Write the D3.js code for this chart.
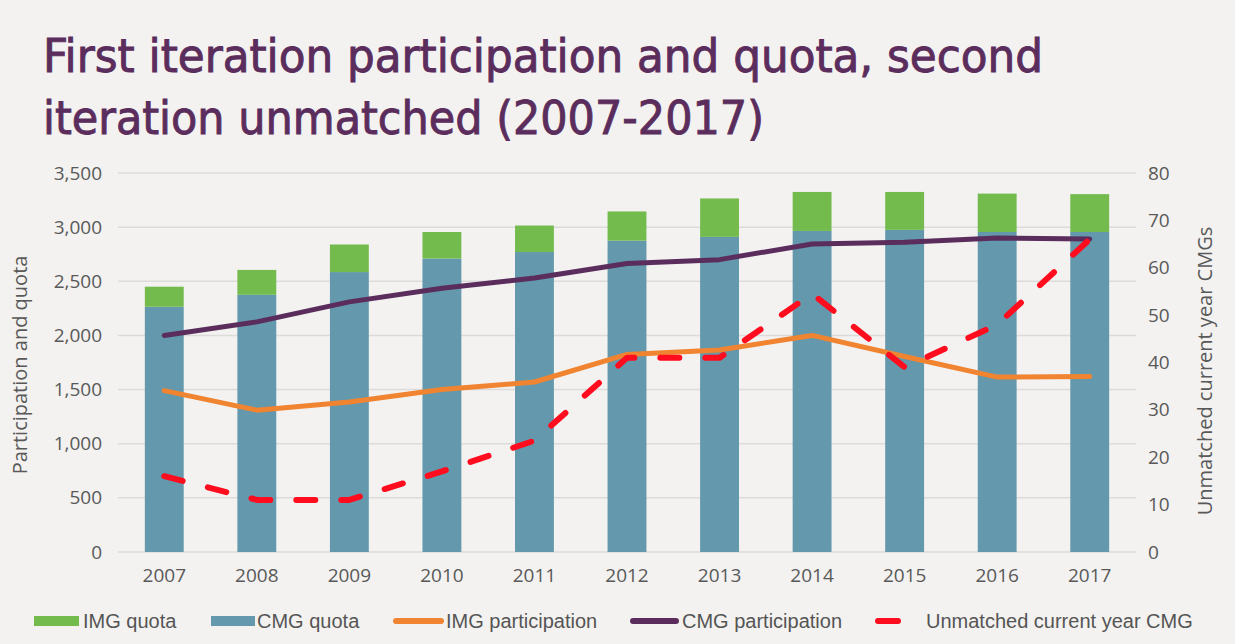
<!DOCTYPE html>
<html>
<head>
<meta charset="utf-8">
<script src="https://cdn.jsdelivr.net/npm/d3@7"></script>
<style>
  body { margin: 0; background: #f3f2f0; }
  svg { display: block; }
  .tick text { fill: #595959; }
</style>
</head>
<body>
<div id="chart"></div>
<script>
// Data
const years = ["2007", "2008", "2009", "2010", "2011", "2012", "2013", "2014", "2015", "2016", "2017"];
const cmgQuota = [2265, 2375, 2585, 2710, 2770, 2875, 2910, 2965, 2975, 2955, 2955];
const imgQuota = [185, 230, 255, 245, 245, 270, 355, 360, 350, 355, 350];
const cmgParticipation = [2000, 2125, 2310, 2435, 2530, 2665, 2700, 2845, 2860, 2900, 2890];
const imgParticipation = [1490, 1310, 1385, 1500, 1570, 1825, 1865, 2000, 1805, 1615, 1620];
const unmatched = [16, 11, 11, 17, 23.5, 41, 41, 54.5, 39, 48, 66];
const leftTicks = [0, 500, 1000, 1500, 2000, 2500, 3000, 3500];
const rightTicks = [0, 10, 20, 30, 40, 50, 60, 70, 80];

const W = 1235, H = 644;
const margin = {top: 173, right: 99, bottom: 92, left: 118};
const width = W - margin.left - margin.right;
const height = H - margin.top - margin.bottom;

const col = {img: "#74bb4e", cmg: "#6398ad", imgP: "#f08431", cmgP: "#5a2d5d", un: "#ff0d1f"};

const svg = d3.select("#chart").append("svg")
    .attr("width", W).attr("height", H)
    .style("background", "#f3f2f0");

// Title
const titleFont = "'Liberation Sans Narrow', 'DejaVu Sans Condensed', sans-serif";
svg.append("text").attr("x", 43).attr("y", 72)
    .attr("font-family", titleFont).attr("font-size", 47).attr("fill", "#5b2d5d")
    .attr("stroke", "#5b2d5d").attr("stroke-width", 0.9)
    .attr("textLength", 1000).attr("lengthAdjust", "spacingAndGlyphs")
    .text("First iteration participation and quota, second");
svg.append("text").attr("x", 43).attr("y", 134)
    .attr("font-family", titleFont).attr("font-size", 47).attr("fill", "#5b2d5d")
    .attr("stroke", "#5b2d5d").attr("stroke-width", 0.9)
    .attr("textLength", 721).attr("lengthAdjust", "spacingAndGlyphs")
    .text("iteration unmatched (2007-2017)");

const g = svg.append("g").attr("transform", `translate(${margin.left},${margin.top})`);

const x = d3.scaleBand().domain(years).range([0, width]).paddingInner(0.58).paddingOuter(0.29);
const y = d3.scaleLinear().domain([0, 3500]).range([height, 0]);
const yR = d3.scaleLinear().domain([0, 80]).range([height, 0]);
const cx = d => x(d) + x.bandwidth() / 2;

// Gridlines
g.append("g").selectAll("line").data(leftTicks).enter().append("line")
    .attr("x1", 0).attr("x2", width)
    .attr("y1", d => y(d)).attr("y2", d => y(d))
    .attr("stroke", "#dcdbd9").attr("stroke-width", 1.5);

// Axes
const axisFont = "'Open Sans', sans-serif";
const styleAxis = sel => {
    sel.select(".domain").remove();
    sel.selectAll(".tick line").remove();
    sel.selectAll("text").attr("font-family", axisFont).attr("font-size", 19);
};
g.append("g").call(d3.axisLeft(y).tickValues(leftTicks).tickSize(0).tickPadding(16).tickFormat(d3.format(",")))
    .call(styleAxis);
g.append("g").attr("transform", `translate(${width},0)`)
    .call(d3.axisRight(yR).tickValues(rightTicks).tickSize(0).tickPadding(12))
    .call(styleAxis);
g.append("g").attr("transform", `translate(0,${height})`)
    .call(d3.axisBottom(x).tickSize(0).tickPadding(17))
    .call(styleAxis)
    .selectAll("text").attr("fill", "#444");

// Axis titles
svg.append("text").attr("transform", "translate(27,365) rotate(-90)")
    .attr("text-anchor", "middle").attr("font-family", axisFont).attr("font-size", 20).attr("fill", "#595959")
    .text("Participation and quota");
svg.append("text").attr("transform", "translate(1212,371) rotate(-90)")
    .attr("text-anchor", "middle").attr("font-family", axisFont).attr("font-size", 20).attr("fill", "#595959")
    .text("Unmatched current year CMGs");

// Stacked bars
const rows = years.map((yr, i) => ({year: yr, cmg: cmgQuota[i], img: imgQuota[i]}));
const stacked = d3.stack().keys(["cmg", "img"])(rows);
g.append("g").selectAll("g").data(stacked).enter().append("g")
    .attr("fill", s => s.key === "cmg" ? col.cmg : col.img)
    .selectAll("rect").data(s => s).enter().append("rect")
    .attr("x", d => x(d.data.year))
    .attr("width", x.bandwidth())
    .attr("y", d => y(d[1]))
    .attr("height", d => y(d[0]) - y(d[1]));

// Lines
const lineL = d3.line().x((d, i) => cx(years[i])).y(d => y(d));
const lineR = d3.line().x((d, i) => cx(years[i])).y(d => yR(d));

g.append("path").datum(cmgParticipation).attr("d", lineL)
    .attr("fill", "none").attr("stroke", col.cmgP).attr("stroke-width", 5)
    .attr("stroke-linejoin", "round").attr("stroke-linecap", "round");
g.append("path").datum(imgParticipation).attr("d", lineL)
    .attr("fill", "none").attr("stroke", col.imgP).attr("stroke-width", 5)
    .attr("stroke-linejoin", "round").attr("stroke-linecap", "round");
g.append("path").datum(unmatched).attr("d", lineR)
    .attr("fill", "none").attr("stroke", col.un).attr("stroke-width", 6)
    .attr("stroke-dasharray", "19,26")
    .attr("stroke-linejoin", "round").attr("stroke-linecap", "round");

// Legend
const legendFont = "'Liberation Sans', Arial, sans-serif";
const legend = [
    {label: "IMG quota", color: col.img, type: "rect", x0: 34, x1: 79, tx: 83},
    {label: "CMG quota", color: col.cmg, type: "rect", x0: 211, x1: 255, tx: 257},
    {label: "IMG participation", color: col.imgP, type: "line", x0: 396, x1: 441, tx: 446},
    {label: "CMG participation", color: col.cmgP, type: "line", x0: 633, x1: 676, tx: 682},
    {label: "Unmatched current year CMG", color: col.un, type: "line", x0: 878, x1: 898, tx: 926}
];
const lg = svg.append("g").selectAll("g").data(legend).enter().append("g");
lg.filter(d => d.type === "rect").append("rect")
    .attr("x", d => d.x0).attr("width", d => d.x1 - d.x0)
    .attr("y", 616).attr("height", 10).attr("fill", d => d.color);
lg.filter(d => d.type === "line").append("line")
    .attr("x1", d => d.x0).attr("x2", d => d.x1).attr("y1", 621).attr("y2", 621)
    .attr("stroke", d => d.color).attr("stroke-width", 6).attr("stroke-linecap", "round");
lg.append("text").attr("x", d => d.tx).attr("y", 628)
    .attr("font-family", legendFont).attr("font-size", 20).attr("fill", "#555")
    .text(d => d.label);
</script>
</body>
</html>
